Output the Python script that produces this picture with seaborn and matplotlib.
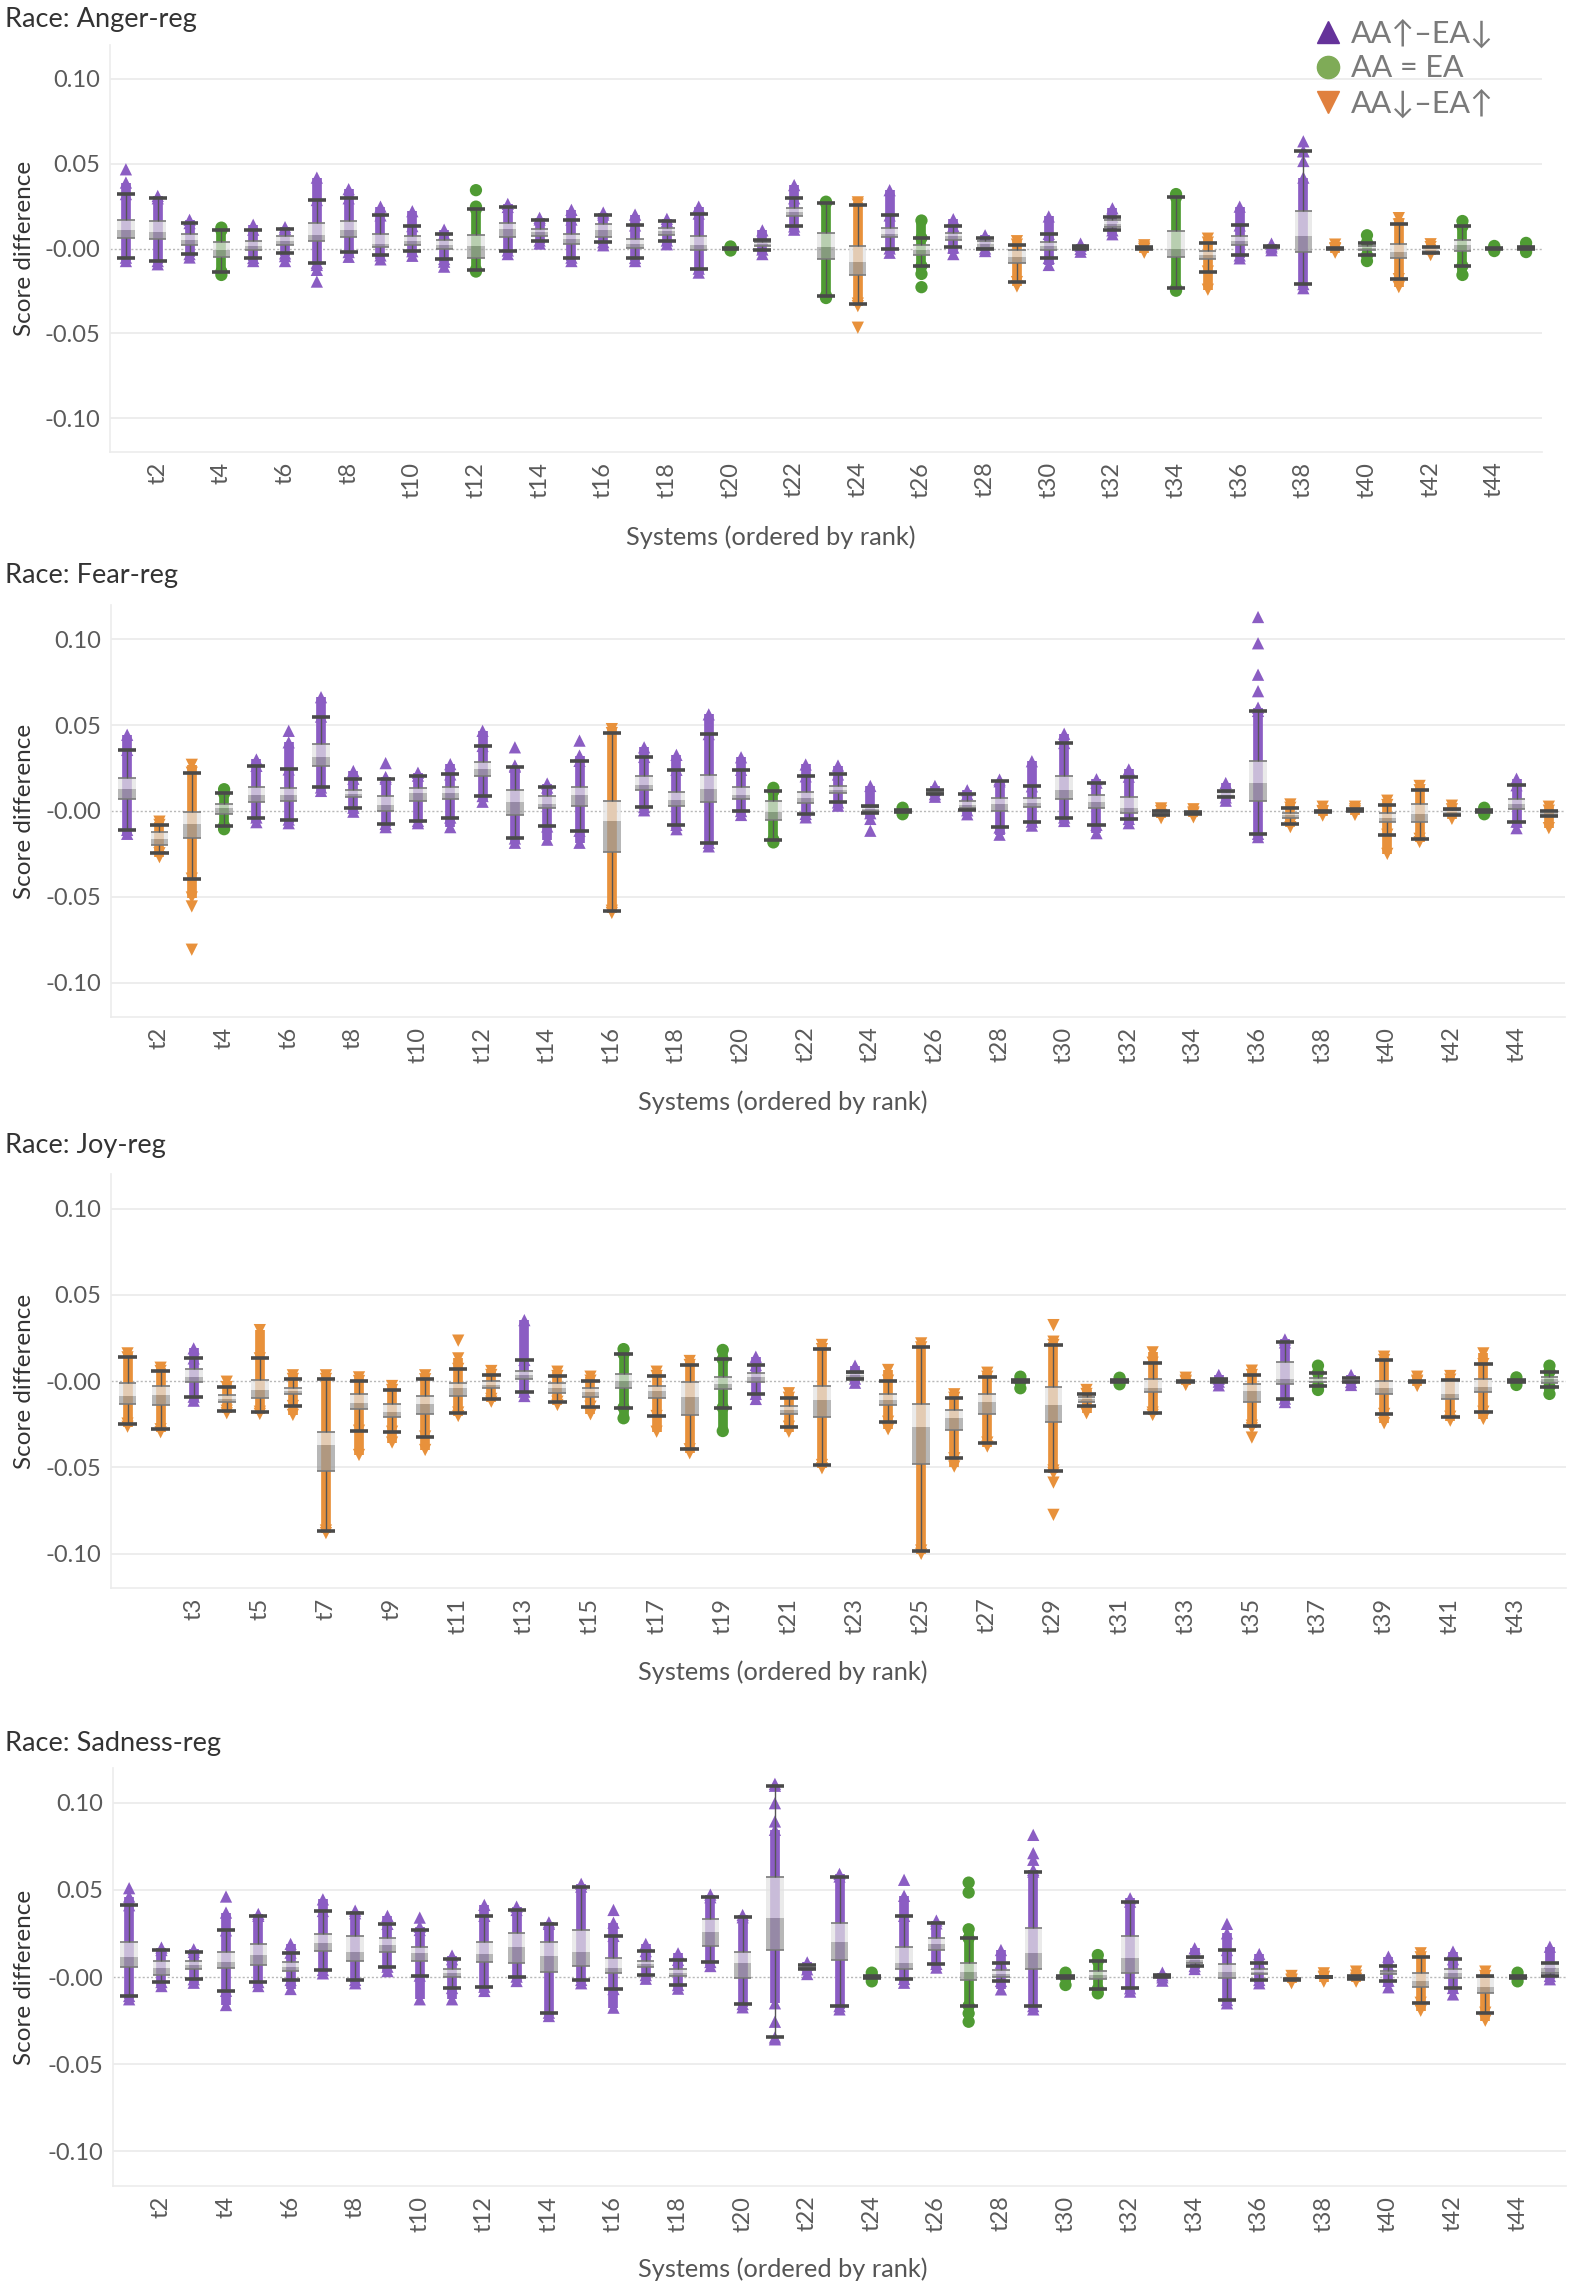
import matplotlib
matplotlib.use("Agg")
import matplotlib.pyplot as plt
from matplotlib.lines import Line2D
import seaborn as sns
import pandas as pd
import numpy as np

# ---------------- DATA ----------------
# categories: P = AA↑–EA↓, G = AA = EA, O = AA↓–EA↑
anger_cat = list("PPPGPPPPPPPGPPPPPPPGPPGOPGPPOPPPOGOPPPOGOOGGG")
anger_lo  = [-0.0054,-0.0074,-0.0033,-0.0136,-0.0056,-0.0029,-0.0084,-0.0021,-0.0041,-0.0016,-0.0062,-0.0125,-0.0012,0.0047,-0.0054,0.0037,-0.0056,0.0047,-0.0119,-0.0004,-0.0006,0.013,-0.0278,-0.0325,0.0,-0.0103,0.0006,0.0,-0.0198,-0.0056,-0.0002,0.0107,-0.0004,-0.0234,-0.0136,-0.0041,0.0006,-0.021,-0.0004,-0.0041,-0.0181,-0.0025,-0.0103,-0.0003,-0.0002]
anger_q1  = [0.0064,0.0058,0.0019,-0.0049,-0.001,0.0019,0.0043,0.0068,0.0006,0.0023,-0.0004,-0.0054,0.0068,0.0074,0.0025,0.0068,0.0004,0.0082,-0.001,-0.0002,0.0014,0.0189,-0.0064,-0.0156,0.0068,-0.0039,0.0049,0.0005,-0.0088,-0.0006,0.0005,0.0126,-0.0004,-0.0053,-0.0064,0.0019,0.0008,-0.0021,-0.0002,-0.001,-0.0054,-0.0023,-0.0014,-0.0002,-0.0001]
anger_med = [0.0111,0.0097,0.0049,-0.001,0.0014,0.0043,0.0078,0.0111,0.0029,0.0045,0.0019,0.0016,0.0113,0.0095,0.0058,0.0107,0.0029,0.0101,0.0023,0.0,0.0025,0.0214,0.001,-0.008,0.0088,-0.001,0.0072,0.0025,-0.0049,0.0016,0.0008,0.0146,0.0,0.0,-0.0039,0.0043,0.001,0.0072,-0.0002,0.0004,-0.0023,-0.001,0.0019,0.0,0.0002]
anger_q3  = [0.0169,0.016,0.0088,0.0039,0.0045,0.0072,0.0152,0.0165,0.0088,0.0072,0.0049,0.0082,0.0152,0.0115,0.0088,0.0144,0.0058,0.0121,0.0076,0.0002,0.0039,0.0239,0.0093,0.0014,0.0121,0.0023,0.0091,0.0045,-0.0006,0.0039,0.001,0.0169,0.0004,0.0101,-0.0014,0.0072,0.0012,0.0224,0.0,0.0014,0.0029,0.0006,0.0049,0.0002,0.0006]
anger_hi  = [0.0321,0.0296,0.015,0.0107,0.0111,0.0115,0.0286,0.0296,0.0195,0.0132,0.0086,0.0232,0.0245,0.0171,0.0171,0.02,0.0136,0.016,0.0206,0.0004,0.0053,0.0296,0.0269,0.0259,0.0195,0.0062,0.0132,0.0064,0.0023,0.0086,0.0016,0.0185,0.0006,0.0302,0.0035,0.0136,0.0014,0.0574,0.0002,0.0035,0.0142,0.0008,0.013,0.0003,0.001]
anger_min = [-0.0074,-0.0093,-0.0053,-0.0156,-0.0074,-0.0045,-0.0097,-0.0049,-0.0064,-0.0043,-0.0078,-0.0136,-0.0033,0.0029,-0.0074,0.0019,-0.0074,0.0025,-0.0142,-0.0012,-0.0033,0.0111,-0.0292,-0.034,-0.0025,-0.015,-0.0033,-0.0015,-0.0224,-0.0097,-0.0019,0.0084,-0.0025,-0.0249,-0.0243,-0.0058,-0.001,-0.0234,-0.0025,-0.0074,-0.0228,-0.0039,-0.0156,-0.0015,-0.0021]
anger_max = [0.0389,0.031,0.0169,0.0123,0.014,0.0126,0.0418,0.035,0.0247,0.022,0.0111,0.0247,0.0263,0.0181,0.0228,0.0212,0.02,0.0175,0.0247,0.0012,0.0107,0.0374,0.0276,0.0272,0.0344,0.0165,0.0173,0.0078,0.0043,0.0189,0.0029,0.0237,0.0019,0.0321,0.0058,0.0247,0.0029,0.0418,0.0023,0.0078,0.0179,0.0025,0.0162,0.0015,0.0033]
anger_out = {"t1": [0.0467], "t6": [-0.0074], "t7": [-0.0126, -0.0195], "t11": [-0.0107],
             "t12": [0.0344], "t24": [-0.0467], "t26": [-0.0228], "t38": [0.0632, 0.0574, 0.0516]}

fear_cat = list("POOGPPPPPPPPPPPOPPPPGPPPGPPPPPPPOOPPOOOOOOGPO")
fear_lo  = [-0.011,-0.0246,-0.0394,-0.0087,-0.0038,-0.005,0.0137,0.0019,-0.0075,-0.0058,-0.0038,0.0087,-0.016,-0.009,-0.0115,-0.0581,0.0023,-0.0081,-0.0185,0.0,-0.0167,-0.0017,0.005,-0.0013,-0.0003,0.0098,0.0004,-0.0096,-0.0062,-0.0038,-0.0081,-0.0046,-0.0023,-0.0015,0.0079,-0.0133,-0.0075,-0.0004,-0.0002,-0.0138,-0.0162,-0.0025,-0.0003,-0.0062,-0.003]
fear_q1  = [0.0067,-0.0196,-0.0158,-0.0019,0.0054,0.006,0.0265,0.0079,0.0,0.006,0.0067,0.0202,-0.0023,0.0019,0.0031,-0.0238,0.0123,0.0029,0.005,0.0067,-0.0052,0.0044,0.0102,0.0,-0.0001,0.0102,0.0015,0.0,0.0021,0.0067,0.0019,-0.001,-0.0019,-0.0013,0.0083,0.006,-0.0042,-0.0002,0.0,-0.0065,-0.0062,-0.0023,-0.0001,0.001,-0.0027]
fear_med = [0.0127,-0.0163,-0.0077,0.0019,0.0092,0.0096,0.0313,0.0098,0.0035,0.0102,0.0102,0.0246,0.0054,0.0038,0.0092,-0.0058,0.0154,0.0063,0.0131,0.0096,-0.0004,0.0077,0.0125,0.0012,0.0,0.0112,0.0035,0.0038,0.0044,0.0121,0.0054,0.0019,-0.0012,-0.0012,0.0096,0.0163,-0.0023,0.0,0.0004,-0.0042,-0.0019,-0.0008,0.0,0.0038,-0.0013]
fear_q3  = [0.0192,-0.0125,-0.0004,0.0038,0.014,0.0135,0.0388,0.0125,0.0088,0.0135,0.014,0.0285,0.0125,0.0088,0.014,0.006,0.0204,0.0112,0.0212,0.014,0.006,0.0112,0.0146,0.0025,0.0001,0.0121,0.006,0.0073,0.0073,0.0204,0.0096,0.0079,-0.0004,-0.0011,0.011,0.0294,-0.0013,0.0,0.0008,-0.0013,0.0038,0.0008,0.0001,0.0069,0.0]
fear_hi  = [0.0356,-0.0081,0.0223,0.0102,0.0263,0.0242,0.055,0.0188,0.0188,0.0206,0.0213,0.0379,0.0258,0.0137,0.0292,0.0454,0.0315,0.024,0.0448,0.024,0.0115,0.0202,0.0213,0.0031,0.0003,0.0123,0.0098,0.0173,0.0144,0.0396,0.0165,0.02,0.0,-0.0008,0.0117,0.0583,0.0019,0.0,0.001,0.0035,0.0121,0.001,0.0003,0.015,0.0002]
fear_min = [-0.0133,-0.0269,-0.0504,-0.0106,-0.0065,-0.0071,0.0117,-0.0004,-0.0094,-0.0071,-0.0094,0.0054,-0.0185,-0.0167,-0.0185,-0.0594,0.0004,-0.0106,-0.0206,-0.0023,-0.0183,-0.0037,0.0031,-0.0046,-0.0019,0.0083,-0.0019,-0.0138,-0.0085,-0.0058,-0.0129,-0.0071,-0.0042,-0.0037,0.006,-0.0152,-0.0094,-0.0027,-0.0023,-0.025,-0.0181,-0.0046,-0.0019,-0.01,-0.01]
fear_max = [0.0444,-0.0062,0.0269,0.0127,0.03,0.04,0.0663,0.0233,0.0198,0.0223,0.0273,0.0467,0.0265,0.016,0.0323,0.0477,0.0371,0.0327,0.0563,0.0313,0.0135,0.0271,0.0265,0.0146,0.0019,0.0146,0.0121,0.0183,0.029,0.045,0.0185,0.0242,0.0015,0.001,0.0163,0.0602,0.0038,0.0025,0.0025,0.006,0.0146,0.0031,0.0019,0.0188,0.0025]
fear_out = {"t3": [-0.0556, -0.0808], "t6": [0.0467], "t9": [0.0279], "t13": [0.0371],
            "t15": [0.041], "t24": [-0.0115], "t36": [0.113, 0.0977, 0.0794, 0.0698]}

joy_cat = list("OOPOOOOOOOOOPOOGOOGPOOPOOOOGOOGOOPOPGPOOOOGG")
joy_lo  = [-0.0247,-0.028,-0.0091,-0.0172,-0.0178,-0.0145,-0.0867,-0.0288,-0.0294,-0.0322,-0.0183,-0.0104,-0.0062,-0.012,-0.0149,-0.0154,-0.0203,-0.0396,-0.0154,-0.0075,-0.0265,-0.0487,0.0014,-0.0236,-0.0983,-0.0448,-0.0357,-0.0004,-0.0519,-0.0145,-0.0003,-0.0183,-0.0004,-0.0004,-0.0259,-0.0102,-0.0029,-0.0006,-0.0191,-0.0004,-0.0207,-0.0178,-0.0003,-0.0033]
joy_q1  = [-0.0135,-0.0141,-0.0004,-0.0122,-0.0097,-0.0077,-0.0521,-0.0164,-0.021,-0.0193,-0.0085,-0.0042,0.001,-0.0068,-0.0091,-0.0042,-0.01,-0.0199,-0.0048,-0.0008,-0.0193,-0.021,0.0019,-0.0141,-0.0483,-0.0284,-0.0193,-0.0002,-0.0239,-0.012,-0.0001,-0.0066,-0.0002,-0.0002,-0.0124,-0.0019,-0.0008,-0.0004,-0.0077,-0.0003,-0.0106,-0.0066,-0.0001,-0.001]
joy_med = [-0.0087,-0.0081,0.0025,-0.0104,-0.0052,-0.0056,-0.0371,-0.0129,-0.0182,-0.0135,-0.0042,-0.0023,0.0035,-0.0039,-0.0066,0.0,-0.0058,-0.0095,-0.0019,0.0021,-0.0168,-0.011,0.0033,-0.011,-0.0265,-0.0216,-0.012,0.0,-0.0139,-0.0106,0.0,-0.0042,0.0,0.0006,-0.0058,0.001,0.0,0.0008,-0.0042,-0.0002,-0.0077,-0.0037,0.0,0.001]
joy_q3  = [-0.0014,-0.0027,0.0068,-0.0081,0.0004,-0.0039,-0.0297,-0.0077,-0.0135,-0.0085,-0.0014,0.0,0.006,-0.0014,-0.0042,0.0039,-0.0027,-0.0004,0.0025,0.0044,-0.0145,-0.0027,0.0044,-0.0077,-0.0135,-0.0168,-0.0077,0.0002,-0.0033,-0.0091,0.0001,0.001,0.0,0.0012,-0.0019,0.0108,0.0019,0.0017,0.0002,0.0,0.0004,0.0014,0.0001,0.0025]
joy_hi  = [0.0137,0.0058,0.0131,-0.0035,0.0131,0.0012,0.0012,0.0,-0.0052,0.001,0.007,0.0035,0.0122,0.0029,0.0002,0.0156,0.0029,0.0093,0.0126,0.0093,-0.0097,0.0185,0.0054,0.0002,0.0195,-0.0097,0.0025,0.0004,0.0209,-0.0075,0.0003,0.0106,0.0002,0.0014,0.0035,0.0224,0.0048,0.0019,0.0122,0.0002,0.0008,0.0098,0.0003,0.0054]
joy_min = [-0.0265,-0.0297,-0.0114,-0.0187,-0.0191,-0.0197,-0.0882,-0.0429,-0.0357,-0.04,-0.0203,-0.012,-0.0087,-0.0139,-0.0193,-0.0216,-0.0294,-0.0419,-0.029,-0.0104,-0.0294,-0.0506,-0.001,-0.028,-0.1002,-0.0496,-0.038,-0.0042,-0.0535,-0.0187,-0.0019,-0.0197,-0.0023,-0.0025,-0.0274,-0.0122,-0.0052,-0.0023,-0.0245,-0.0029,-0.023,-0.022,-0.0023,-0.0075]
joy_max = [0.016,0.0077,0.0189,-0.0004,0.0295,0.0033,0.0033,0.0021,-0.0029,0.0033,0.0131,0.0058,0.0353,0.0054,0.0025,0.0185,0.0054,0.0116,0.018,0.0141,-0.0071,0.0209,0.0089,0.0064,0.0218,-0.0077,0.0048,0.0025,0.0228,-0.0052,0.0019,0.0166,0.0019,0.0035,0.006,0.0241,0.0089,0.0035,0.0141,0.0025,0.0029,0.016,0.0021,0.0089]
joy_out = {"t11": [0.0234], "t29": [0.0324, -0.0589, -0.0776], "t35": [-0.0328]}

sad_cat = list("PPPPPPPPPPPPPPPPPPPPPPPGPPGPPGGPPPPPOOOPOPOGP")
sad_lo  = [-0.0109,-0.0029,-0.0013,-0.0079,-0.0029,-0.0017,0.004,-0.0017,0.0059,0.0008,-0.0063,-0.0056,0.0002,-0.0205,-0.0017,-0.0069,0.0011,-0.0046,0.0086,-0.0155,-0.0347,0.0044,-0.0167,-0.0003,-0.0011,0.0075,-0.0165,-0.0023,-0.0167,-0.0003,-0.0069,-0.0065,-0.0002,0.0063,-0.0132,-0.0017,-0.0019,-0.0002,-0.001,-0.0021,-0.0148,-0.0063,-0.0205,-0.0003,0.0006]
sad_q1  = [0.0056,0.001,0.0046,0.0054,0.0069,0.0036,0.0149,0.0092,0.0146,0.0094,0.0002,0.0088,0.0079,0.0027,0.0065,0.0021,0.0056,0.0006,0.018,-0.0004,0.0155,0.005,0.0098,-0.0001,0.0044,0.0155,-0.0017,0.0002,0.0048,-0.0001,-0.0011,0.0021,0.0,0.0079,-0.0008,0.0015,-0.0018,-0.0001,-0.0008,0.0017,-0.0056,-0.0004,-0.0094,-0.0001,0.0021]
sad_med = [0.0113,0.005,0.0069,0.0088,0.0126,0.0059,0.0194,0.0146,0.0184,0.0136,0.0025,0.0132,0.0171,0.0121,0.0142,0.005,0.0075,0.0025,0.0261,0.0079,0.0337,0.0059,0.0203,0.0,0.0082,0.019,0.0031,0.0017,0.014,0.0,0.0011,0.0107,0.0004,0.0098,0.0031,0.0031,-0.0017,0.0,0.0,0.0027,-0.0021,0.0021,-0.0056,0.0,0.005]
sad_q3  = [0.0203,0.0094,0.0092,0.0142,0.019,0.0086,0.0245,0.0236,0.0222,0.0171,0.0046,0.0203,0.0251,0.0203,0.027,0.0111,0.0094,0.0044,0.0335,0.0146,0.0573,0.0067,0.0308,0.0001,0.0171,0.0226,0.0079,0.004,0.0284,0.0001,0.0034,0.0238,0.0008,0.0111,0.0073,0.0046,-0.0016,0.0001,0.0008,0.0036,0.0021,0.0044,0.0002,0.0001,0.0079]
sad_hi  = [0.0412,0.0155,0.0144,0.0268,0.0351,0.014,0.0379,0.0366,0.0305,0.027,0.0102,0.0351,0.0385,0.0305,0.0519,0.0236,0.0149,0.0098,0.0458,0.0343,0.1098,0.0071,0.0577,0.0003,0.0351,0.0308,0.0222,0.0082,0.0605,0.0003,0.0092,0.0433,0.001,0.0117,0.0155,0.0082,-0.0014,0.0002,0.0008,0.0063,0.0113,0.0102,0.0006,0.0003,0.0082]
sad_min = [-0.0128,-0.0052,-0.0033,-0.0161,-0.0052,-0.0069,0.0021,-0.0036,0.0034,-0.0128,-0.0128,-0.008,-0.0023,-0.0224,-0.0036,-0.0176,-0.001,-0.0067,0.0063,-0.0174,-0.0151,0.0017,-0.0186,-0.0025,-0.0033,0.0054,-0.0209,-0.0071,-0.0186,-0.0046,-0.0094,-0.0084,-0.0021,0.0046,-0.0151,-0.0036,-0.0036,-0.0027,-0.0027,-0.0059,-0.0194,-0.01,-0.0251,-0.0025,-0.0013]
sad_max = [0.0462,0.0169,0.0159,0.037,0.0362,0.019,0.0446,0.0381,0.0351,0.0289,0.0123,0.0414,0.0404,0.0314,0.0535,0.0312,0.019,0.0136,0.0473,0.0356,0.0845,0.0084,0.0592,0.0025,0.0466,0.0324,0.0274,0.0155,0.0615,0.0025,0.0126,0.0452,0.0025,0.0165,0.0251,0.0132,0.0006,0.0021,0.0031,0.0117,0.0136,0.0146,0.0031,0.0025,0.0174]
sad_out = {"t1": [0.051], "t4": [0.0462], "t10": [0.0341], "t16": [0.0385],
           "t21": [0.1109, 0.0998, 0.0893, -0.0257, -0.0358], "t25": [0.0558],
           "t27": [0.0542, 0.0485, -0.0257], "t29": [0.0816, 0.0711, 0.0673], "t35": [0.0305]}

y_ticks = [-0.10, -0.05, 0.0, 0.05, 0.10]
y_tick_labels = ["-0.10", "-0.05", "-0.00", "0.05", "0.10"]
legend_labels = {"P": "AA\u2191\u2013EA\u2193", "G": "AA = EA", "O": "AA\u2193\u2013EA\u2191"}

# ---------------- STYLE ----------------
sns.set_theme(style="white")
plt.rcParams['font.family'] = ['Lato', 'DejaVu Sans']

COL = {"P": "#8b5dc3", "G": "#4f9b33", "O": "#e8913b"}
LEG_COL = {"P": "#65339a", "G": "#7fab57", "O": "#e0803e"}
MRK = {"P": "^", "G": "o", "O": "v"}

W, H = 1572, 2292
fig = plt.figure(figsize=(W / 100, H / 100), dpi=100)

panels = [
    dict(title="Race: Anger-reg", cat=anger_cat, lo=anger_lo, q1=anger_q1, med=anger_med, q3=anger_q3,
         hi=anger_hi, mn=anger_min, mx=anger_max, out=anger_out,
         rect=(110, 45, 1542, 452), first_label=1, title_y=19, xlab_y=537),
    dict(title="Race: Fear-reg", cat=fear_cat, lo=fear_lo, q1=fear_q1, med=fear_med, q3=fear_q3,
         hi=fear_hi, mn=fear_min, mx=fear_max, out=fear_out,
         rect=(111, 605, 1565, 1017), first_label=1, title_y=576, xlab_y=1102),
    dict(title="Race: Joy-reg", cat=joy_cat, lo=joy_lo, q1=joy_q1, med=joy_med, q3=joy_q3,
         hi=joy_hi, mn=joy_min, mx=joy_max, out=joy_out,
         rect=(111, 1174, 1566, 1588), first_label=2, title_y=1146, xlab_y=1672),
    dict(title="Race: Sadness-reg", cat=sad_cat, lo=sad_lo, q1=sad_q1, med=sad_med, q3=sad_q3,
         hi=sad_hi, mn=sad_min, mx=sad_max, out=sad_out,
         rect=(113, 1768, 1566, 2186), first_label=1, title_y=1743, xlab_y=2269),
]


def draw_panel(p):
    l, t, r, b = p["rect"]
    ax = fig.add_axes([l / W, 1 - b / H, (r - l) / W, (b - t) / H])
    n = len(p["cat"])
    names = [f"t{i + 1}" for i in range(n)]
    x = np.arange(n)
    lo, q1, med, q3, hi = (np.array(p[k]) for k in ("lo", "q1", "med", "q3", "hi"))
    mn, mx = np.array(p["mn"]), np.array(p["mx"])
    cols = [COL[c] for c in p["cat"]]

    # grid
    for yv in (-0.10, -0.05, 0.05, 0.10):
        ax.axhline(yv, color="#ececec", lw=1.3, zorder=0)
    ax.axhline(0, color="#b8b8b8", lw=1.0, ls=(0, (1.5, 1.5)), zorder=0)

    # dense strip of points (column)
    ax.vlines(x, mn, mx, colors=cols, linewidth=7.0, zorder=2)

    rows = []
    for i, nm in enumerate(names):
        c = p["cat"][i]
        for v in [mn[i], mx[i], lo[i], hi[i]] + p["out"].get(nm, []):
            rows.append((i, v, c))
    df = pd.DataFrame(rows, columns=["pos", "val", "grp"])
    sns.scatterplot(data=df, x="pos", y="val", hue="grp", style="grp", palette=COL,
                    markers=MRK, s=78, linewidth=0, legend=False, ax=ax, zorder=3)

    # boxes (Tableau style: light upper half, darker lower half)
    bw = 0.54
    ax.bar(x, q3 - med, bottom=med, width=bw, color="#e2e2e2", alpha=0.72, zorder=4, linewidth=0)
    ax.bar(x, med - q1, bottom=q1, width=bw, color="#9b9b9b", alpha=0.72, zorder=4, linewidth=0)
    ax.hlines(q1, x - bw / 2, x + bw / 2, color="#7a7a7a", lw=1.2, zorder=5)
    ax.hlines(q3, x - bw / 2, x + bw / 2, color="#7a7a7a", lw=1.2, zorder=5)

    # whiskers and caps
    ax.vlines(x, lo, q1, color="#555555", lw=1.0, zorder=5)
    ax.vlines(x, q3, hi, color="#555555", lw=1.0, zorder=5)
    cw = 0.56
    ax.hlines(lo, x - cw / 2, x + cw / 2, color="#4a4a4a", lw=2.6, zorder=6)
    ax.hlines(hi, x - cw / 2, x + cw / 2, color="#4a4a4a", lw=2.6, zorder=6)

    ax.set_xlim(-0.5, n - 0.5)
    ax.set_ylim(-0.12, 0.12)
    ax.set_yticks(y_ticks)
    ax.set_yticklabels(y_tick_labels, fontsize=17, color="#5a5a5a")
    lab_idx = list(range(p["first_label"], n, 2))
    if p["first_label"] == 1:
        lab_idx = [i for i in lab_idx if i < 44]
    ax.set_xticks(lab_idx)
    ax.set_xticklabels([names[i] for i in lab_idx], rotation=90, fontsize=17, color="#5a5a5a")
    ax.tick_params(axis="both", length=0, pad=7)
    ax.set_xlabel("")
    ax.set_ylabel("")
    for s in ("top", "right"):
        ax.spines[s].set_visible(False)
    for s in ("left", "bottom"):
        ax.spines[s].set_color("#ececec")
        ax.spines[s].set_linewidth(1.2)

    fig.text(5 / W, 1 - p["title_y"] / H, p["title"], fontsize=19.5, color="#333333",
             ha="left", va="center")
    fig.text((r / 2) / W, 1 - p["xlab_y"] / H, "Systems (ordered by rank)", fontsize=18.3,
             color="#555555", ha="center", va="center")
    fig.text(25 / W, 1 - ((t + b) / 2) / H, "Score difference", fontsize=17.5, color="#333333",
             rotation=90, ha="center", va="center")


for p in panels:
    draw_panel(p)

handles = [Line2D([], [], marker=MRK[k], color=LEG_COL[k], linestyle="None", markersize=16)
           for k in ("P", "G", "O")]
fig.legend(handles, [legend_labels[k] for k in ("P", "G", "O")], loc="upper left",
           bbox_to_anchor=(1296 / W, 1 - 3 / H), frameon=False, fontsize=22,
           labelcolor="#7a7a7a", handletextpad=0.2, labelspacing=0.22, borderpad=0,
           handlelength=1.1)

fig.savefig("out.png", dpi=100)
